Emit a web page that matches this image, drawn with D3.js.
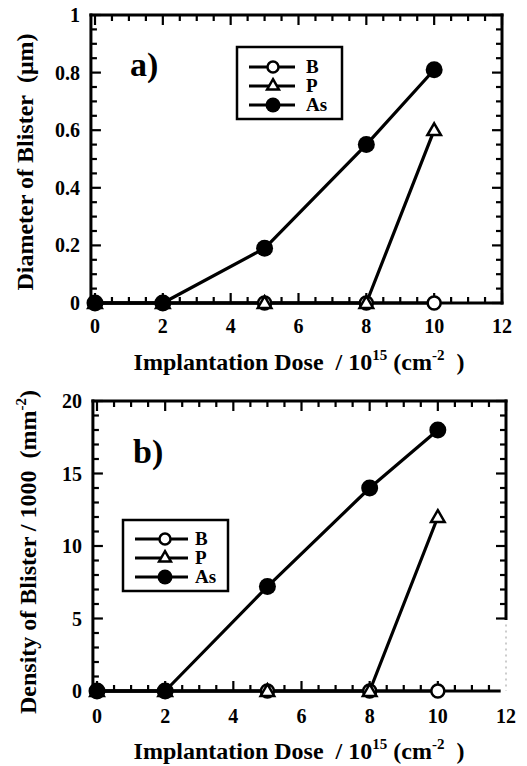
<!DOCTYPE html>
<html><head><meta charset="utf-8">
<script src="https://cdn.jsdelivr.net/npm/d3@7"></script>
<style>
html,body{margin:0;padding:0;background:#fff;}
svg{display:block;}
</style></head><body>
<svg id="chart" width="527" height="766"></svg>
<script>
// ---- data ----
const doses = [0, 2, 5, 8, 10];
const seriesNames = ["B", "P", "As"];
const diamB  = [0, 0, 0, 0, 0];
const diamP  = [0, 0, 0, 0, 0.6];
const diamAs = [0, 0, 0.19, 0.55, 0.81];
const densB  = [0, 0, 0, 0, 0];
const densP  = [0, 0, 0, 0, 12];
const densAs = [0, 0, 7.2, 14, 18];
const xTicks = [0, 2, 4, 6, 8, 10, 12];
const yTicksA = [0, 0.2, 0.4, 0.6, 0.8, 1];
const yTickLabelsA = ["0", "0.2", "0.4", "0.6", "0.8", "1"];
const yTicksB = [0, 5, 10, 15, 20];

const svg = d3.select("#chart");

function T(sel) { return sel.style("font-family", "'Liberation Serif', serif").style("font-weight", "bold").attr("fill", "#000"); }

function panel(cfg) {
  const g = svg.append("g");
  const x = d3.scaleLinear().domain([0, 12]).range([cfg.x0, cfg.x12]);
  const y = d3.scaleLinear().domain(cfg.yDomain).range([cfg.yBottom, cfg.yTop]);
  const left = x(-0.12), right = x(12), top = y(cfg.yDomain[1]), bottom = y(0);
  const rightEnd = cfg.rightEnd != null ? y(cfg.rightEnd) : bottom;

  const sw = 3;
  const ln = (x1, y1, x2, y2, w) => g.append("line").attr("x1", x1).attr("x2", x2).attr("y1", y1).attr("y2", y2).attr("stroke", "#000").attr("stroke-width", w);
  ln(left, top, right, top, sw).attr("stroke-linecap", "square");
  ln(left, top, left, bottom, sw).attr("stroke-linecap", "square");
  ln(right, top, right, rightEnd, sw).attr("stroke-linecap", "square");
  const bottomEnd = cfg.rightEnd != null ? x(11.8) : right;
  ln(left, bottom, bottomEnd, bottom, sw).attr("stroke-linecap", "square");
  if (cfg.rightEnd != null) {
    g.append("line").attr("x1", right).attr("x2", right).attr("y1", rightEnd + 6).attr("y2", bottom).attr("stroke", "#999").attr("stroke-width", 1).attr("stroke-dasharray", "2,4");
  }

  // x ticks (inward, top and bottom)
  d3.range(0, 12.001, 0.5).forEach(v => {
    const major = Math.abs(v % 2) < 1e-6;
    const L = major ? 10 : 6;
    if (cfg.rightEnd == null || v <= 11.8) ln(x(v), bottom, x(v), bottom - L, 2.2);
    ln(x(v), top, x(v), top + L, 2.2);
  });
  // y ticks (inward, left and right)
  d3.range(0, cfg.yDomain[1] + 1e-9, cfg.yMinorStep).forEach(v => {
    const major = cfg.yMajor.some(m => Math.abs(m - v) < 1e-6);
    const L = major ? 10 : 6;
    ln(left, y(v), left + L, y(v), 2.2);
    if (cfg.rightEnd == null || v >= cfg.rightEnd - 1e-9) ln(right, y(v), right - L, y(v), 2.2);
  });

  // tick labels
  T(g.selectAll(".xl").data(xTicks).enter().append("text"))
    .attr("x", d => x(d)).attr("y", cfg.xLabelY).attr("text-anchor", "middle")
    .style("font-size", "20px").text(d => d);
  T(g.selectAll(".yl").data(cfg.yMajor).enter().append("text"))
    .attr("x", cfg.yLabelX).attr("y", d => y(d)).attr("dy", "0.35em").attr("text-anchor", "end")
    .style("font-size", "20px").text((d, i) => cfg.yLabels[i]);

  // x title
  const xt = T(g.append("text")).attr("x", cfg.xTitleX).attr("y", cfg.xTitleY).attr("text-anchor", "middle").style("font-size", "24px");
  xt.append("tspan").text("Implantation Dose\u00a0\u00a0/ 10");
  xt.append("tspan").style("font-size", "15px").attr("dy", -10).text("15");
  xt.append("tspan").attr("dy", 10).text(" (cm");
  xt.append("tspan").style("font-size", "15px").attr("dy", -10).text("-2");
  xt.append("tspan").attr("dy", 10).text("\u00a0\u00a0)");

  // y title
  const yt = T(g.append("text")).attr("transform", `translate(${cfg.yTitleX},${cfg.yTitleY}) rotate(-90)`)
    .attr("text-anchor", "middle").style("font-size", "24px");
  cfg.yTitle(yt);

  // panel label
  T(g.append("text")).attr("x", cfg.labelX).attr("y", cfg.labelY).style("font-size", "34px").text(cfg.label);

  // data
  const line = d3.line().x((d, i) => x(doses[i])).y(d => y(d));
  [cfg.B, cfg.P, cfg.As].forEach(vals => {
    g.append("path").datum(vals).attr("d", line).attr("fill", "none").attr("stroke", "#000").attr("stroke-width", 3.2).attr("stroke-linejoin", "round");
  });
  const tri = d3.symbol().type(d3.symbolTriangle).size(80);
  g.selectAll(".b").data(cfg.B).enter().append("circle")
    .attr("cx", (d, i) => x(doses[i])).attr("cy", d => y(d)).attr("r", 6.5)
    .attr("fill", "#fff").attr("stroke", "#000").attr("stroke-width", 2.5);
  g.selectAll(".p").data(cfg.P).enter().append("path")
    .attr("d", tri).attr("transform", (d, i) => `translate(${x(doses[i])},${y(d) + 1})`)
    .attr("fill", "#fff").attr("stroke", "#000").attr("stroke-width", 2.5);
  g.selectAll(".as").data(cfg.As).enter().append("circle")
    .attr("cx", (d, i) => x(doses[i])).attr("cy", d => y(d)).attr("r", 8.5)
    .attr("fill", "#000");

  // legend
  const lg = g.append("g");
  lg.append("rect").attr("x", cfg.leg.x).attr("y", cfg.leg.y).attr("width", cfg.leg.w).attr("height", cfg.leg.h)
    .attr("fill", "#fff").attr("stroke", "#000").attr("stroke-width", 2.5);
  seriesNames.forEach((name, i) => {
    const yy = cfg.leg.rows[i];
    lg.append("line").attr("x1", cfg.leg.l1).attr("x2", cfg.leg.l2).attr("y1", yy).attr("y2", yy).attr("stroke", "#000").attr("stroke-width", 3);
    const mx = cfg.leg.m;
    if (name === "B") lg.append("circle").attr("cx", mx).attr("cy", yy).attr("r", 5.5).attr("fill", "#fff").attr("stroke", "#000").attr("stroke-width", 2.5);
    if (name === "P") lg.append("path").attr("d", d3.symbol().type(d3.symbolTriangle).size(60)).attr("transform", `translate(${mx},${yy})`).attr("fill", "#fff").attr("stroke", "#000").attr("stroke-width", 2.5);
    if (name === "As") lg.append("circle").attr("cx", mx).attr("cy", yy).attr("r", 7.5).attr("fill", "#000");
    T(lg.append("text")).attr("x", cfg.leg.tx).attr("y", yy).attr("dy", "0.33em").style("font-size", "19px").text(name);
  });
}

panel({
  x0: 95, x12: 502, yDomain: [0, 1], yBottom: 303, yTop: 15,
  yMinorStep: 0.05, yMajor: yTicksA, yLabels: yTickLabelsA,
  xLabelY: 333, yLabelX: 80,
  xTitleX: 299, xTitleY: 370,
  yTitleX: 33, yTitleY: 162,
  yTitle: t => { t.text("Diameter of Blister\u00a0\u00a0(\u03bcm)"); },
  label: "a)", labelX: 130, labelY: 76,
  B: diamB, P: diamP, As: diamAs,
  leg: {x: 237, y: 47, w: 105, h: 72, rows: [67, 86, 105], l1: 249, l2: 295, m: 273, tx: 306}
});

panel({
  x0: 97, x12: 506, yDomain: [0, 20], yBottom: 691, yTop: 401,
  yMinorStep: 1, yMajor: yTicksB, yLabels: yTicksB.map(String),
  xLabelY: 723, yLabelX: 82,
  xTitleX: 299, xTitleY: 759,
  yTitleX: 36, yTitleY: 552,
  yTitle: t => {
    t.append("tspan").text("Density of Blister / 1000\u00a0\u00a0(mm");
    t.append("tspan").style("font-size", "15px").attr("dy", -10).text("-2");
    t.append("tspan").attr("dy", 10).text(")");
  },
  label: "b)", labelX: 133, labelY: 463, rightEnd: 5,
  B: densB, P: densP, As: densAs,
  leg: {x: 123, y: 520, w: 105, h: 71, rows: [539, 558, 577], l1: 135, l2: 188, m: 165, tx: 195}
});
</script>
</body></html>
